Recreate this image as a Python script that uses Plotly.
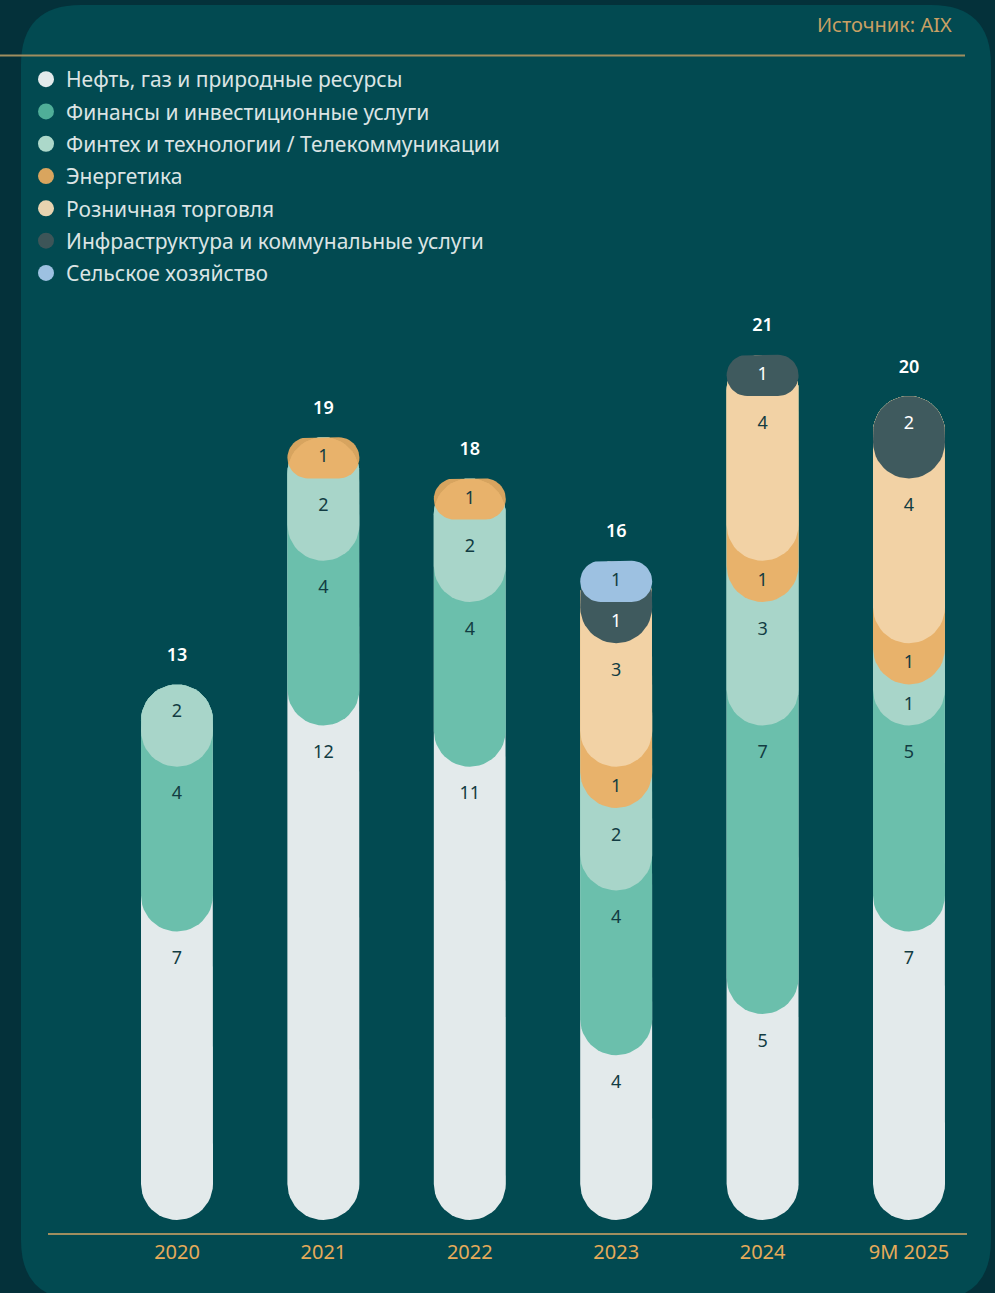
import math
import plotly.graph_objects as go

W, H = 995, 1293

categories = ["2020", "2021", "2022", "2023", "2024", "9M 2025"]
series_names = [
    "Нефть, газ и природные ресурсы",
    "Финансы и инвестиционные услуги",
    "Финтех и технологии / Телекоммуникации",
    "Энергетика",
    "Розничная торговля",
    "Инфраструктура и коммунальные услуги",
    "Сельское хозяйство",
]
oil = [7, 12, 11, 4, 5, 7]
finance = [4, 4, 4, 4, 7, 5]
fintech = [2, 2, 2, 2, 3, 1]
energy = [0, 1, 1, 1, 1, 1]
retail = [0, 0, 0, 3, 4, 4]
infra = [0, 0, 0, 1, 1, 2]
agri = [0, 0, 0, 1, 0, 0]
series_values = [oil, finance, fintech, energy, retail, infra, agri]

fill_colors = ["#e3eaeb", "#6bbfac", "#a8d5c9", "rgba(238,174,96,0.9)",
               "#f2d2a5", "#3f5a5e", "#9dc1e1"]
legend_colors = ["#e3eaeb", "#4fae98", "#acd8ca", "#d9a55e",
                 "#e8d3b0", "#3d5558", "#9dc1e1"]
label_colors = ["#123c42"] * 5 + ["#ffffff", "#123c42"]

OUTER_BG = "#04313a"
PANEL_BG = "#024a51"
GOLD_LINE = "#a08e5f"
FONT = "Noto Sans"

# pixel geometry (layout)
PX_X, X0 = 146.4, 177.0
PX_Y, Y0 = 41.2, 1220.0
PL, PR, PB, PT = 48, 967, 1233, 300
HALF_W = 36.0

fig = go.Figure()

# legend entries
for name, col in zip(series_names, legend_colors):
    fig.add_trace(go.Scatter(x=[None], y=[None], mode="markers", name=name,
                             legendgroup=name,
                             marker=dict(size=16, color=col, symbol="circle")))


def pill(xc, y0, y1):
    h = (y1 - y0) * PX_Y
    r = min(HALF_W, h / 2)
    rx, ry, hw = r / PX_X, r / PX_Y, HALF_W / PX_X
    centers = [(xc + hw - rx, y0 + ry, -90), (xc + hw - rx, y1 - ry, 0),
               (xc - hw + rx, y1 - ry, 90), (xc - hw + rx, y0 + ry, 180)]
    xs, ys = [], []
    for cx, cy, a0 in centers:
        for k in range(13):
            a = math.radians(a0 + 90 * k / 12)
            xs.append(cx + rx * math.cos(a))
            ys.append(cy + ry * math.sin(a))
    xs.append(xs[0]); ys.append(ys[0])
    return xs, ys


lab_x, lab_y, lab_t, lab_c = [], [], [], []
tot_x, tot_y, tot_t = [], [], []
for i, cat in enumerate(categories):
    segs = []
    base = 0
    for s, vals in enumerate(series_values):
        v = vals[i]
        if v > 0:
            segs.append((s, base, base + v, v))
            base += v
    total = base
    for j, (s, b, t, v) in enumerate(segs):
        top_ext = total if j + 1 < len(segs) else t
        xs, ys = pill(i, b, top_ext)
        fig.add_trace(go.Scatter(x=xs, y=ys, mode="lines", fill="toself",
                                 fillcolor=fill_colors[s], line=dict(width=0),
                                 hoverinfo="skip", showlegend=False))
        hpx = v * PX_Y
        lab_x.append(i)
        lab_y.append(t - min(28, hpx / 2) / PX_Y)
        lab_t.append(str(v))
        lab_c.append(label_colors[s])
    tot_x.append(i)
    tot_y.append(total + 28 / PX_Y)
    tot_t.append(str(total))

fig.add_trace(go.Scatter(x=lab_x, y=lab_y, text=lab_t, mode="text",
                         textfont=dict(size=18, color=lab_c, family=FONT),
                         hoverinfo="skip", showlegend=False))
fig.add_trace(go.Scatter(x=tot_x, y=tot_y, text=tot_t, mode="text",
                         textfont=dict(size=18, color="#ffffff", family=FONT, weight=600),
                         hoverinfo="skip", showlegend=False))


def px(xp):
    return xp / W


def py(yp):
    return 1 - yp / H


R = 60
L, Rt, T, B = 21, 991, 5, 1300
panel_path = (
    f"M {px(L)} {py(T + R)} Q {px(L)} {py(T)} {px(L + R)} {py(T)} "
    f"L {px(Rt - R)} {py(T)} Q {px(Rt)} {py(T)} {px(Rt)} {py(T + R)} "
    f"L {px(Rt)} {py(B - R)} Q {px(Rt)} {py(B)} {px(Rt - R)} {py(B)} "
    f"L {px(L + R)} {py(B)} Q {px(L)} {py(B)} {px(L)} {py(B - R)} Z"
)

shapes = [
    dict(type="path", path=panel_path, xref="paper", yref="paper",
         fillcolor=PANEL_BG, line=dict(width=0), layer="below"),
    dict(type="line", xref="paper", yref="paper", x0=0, x1=px(965),
         y0=py(55.5), y1=py(55.5), line=dict(color=GOLD_LINE, width=2)),
]

fig.update_layout(
    width=W, height=H,
    margin=dict(l=0, r=0, t=0, b=0),
    paper_bgcolor=OUTER_BG,
    plot_bgcolor="rgba(0,0,0,0)",
    shapes=shapes,
    showlegend=True,
    legend=dict(x=px(26), y=py(59), xanchor="left", yanchor="top",
                font=dict(size=21, color="#dbe4e4", family=FONT),
                bgcolor="rgba(0,0,0,0)", traceorder="grouped",
                tracegroupgap=2, itemclick=False),
    xaxis=dict(domain=[PL / W, PR / W],
               range=[(PL - X0) / PX_X, (PR - X0) / PX_X],
               tickvals=list(range(len(categories))), ticktext=categories,
               tickfont=dict(size=20, color="#e6ab5a", family=FONT),
               showgrid=False, zeroline=False, showline=True,
               linecolor=GOLD_LINE, linewidth=2, ticks="",
               fixedrange=True),
    yaxis=dict(domain=[py(PB), py(PT)],
               range=[(Y0 - PB) / PX_Y, (Y0 - PT) / PX_Y],
               showgrid=False, zeroline=False, showticklabels=False,
               showline=False, fixedrange=True),
    annotations=[dict(text="Источник: AIX", xref="paper", yref="paper",
                      x=px(954), y=py(25), xanchor="right", yanchor="middle",
                      showarrow=False,
                      font=dict(size=20, color="#c9a064", family=FONT))],
)

fig.write_html(
    "out.html",
    config={"displayModeBar": False},
    post_script="document.body.style.margin='0';"
                "document.body.style.background='" + OUTER_BG + "';",
)
